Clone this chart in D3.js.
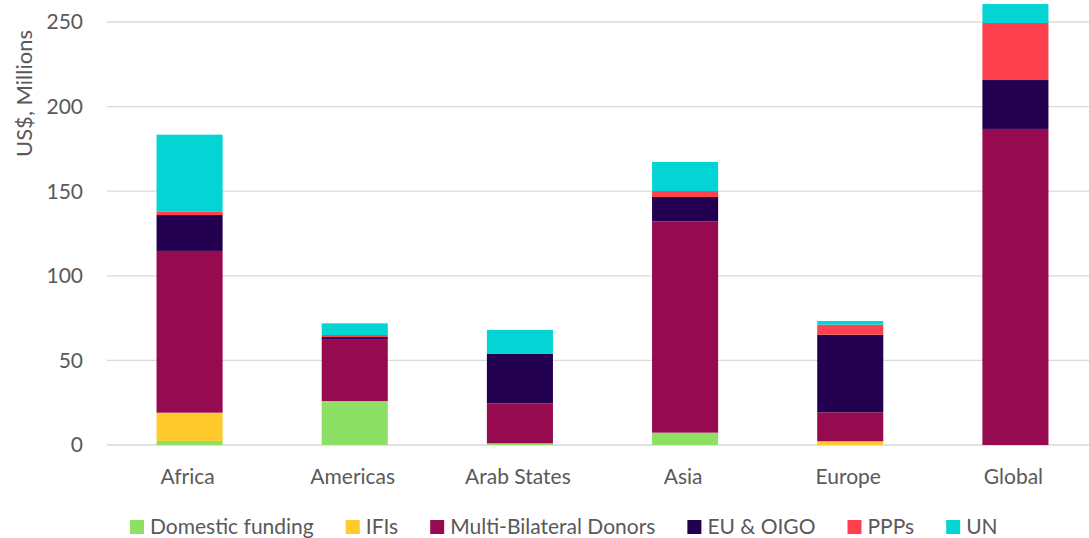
<!DOCTYPE html>
<html>
<head>
<meta charset="utf-8">
<script src="https://cdn.jsdelivr.net/npm/d3@7"></script>
<style>
  body { margin: 0; background: #fff; }
  svg { display: block; font-family: Lato, "Open Sans", sans-serif; }
</style>
</head>
<body>
<div id="chart"></div>
<script>
// data (US$ millions)
var regions = ["Africa", "Americas", "Arab States", "Asia", "Europe", "Global"];
var seriesNames = ["Domestic funding", "IFIs", "Multi-Bilateral Donors", "EU & OIGO", "PPPs", "UN"];
var seriesColors = ["#8ee065", "#ffca2c", "#960b50", "#23004f", "#ff404e", "#05d4d4"];

var domestic = [2.4, 26.0, 1.0, 7.3, 0, 0];
var ifis     = [16.7, 0, 0, 0, 2.2, 0];
var multiBi  = [95.6, 36.6, 23.6, 124.9, 17.1, 186.8];
var euOigo   = [21.2, 1.2, 29.2, 14.4, 45.9, 28.9];
var ppps     = [2.2, 1.2, 0, 3.5, 5.9, 33.7];
var un       = [45.3, 6.9, 14.2, 17.2, 2.2, 11.2];

var yTicks = [0, 50, 100, 150, 200, 250];

var width = 1089, height = 538;

var svg = d3.select("#chart")
    .append("svg")
    .attr("width", width)
    .attr("height", height);

// build rows for the stack
var allSeries = [domestic, ifis, multiBi, euOigo, ppps, un];
var rows = regions.map(function(r, i) {
    var row = {region: r};
    seriesNames.forEach(function(s, j) { row[s] = allSeries[j][i]; });
    return row;
});
var stacked = d3.stack().keys(seriesNames)(rows);

var x = d3.scaleBand()
    .domain(regions)
    .range([107, 1098])
    .paddingInner(0.6)
    .paddingOuter(0.3);

var y = d3.scaleLinear()
    .domain([0, 250])
    .range([445, 22]);

// gridlines
svg.append("g")
    .selectAll("line")
    .data(yTicks)
    .enter()
    .append("line")
    .attr("x1", 107)
    .attr("x2", width)
    .attr("y1", function(d) { return y(d); })
    .attr("y2", function(d) { return y(d); })
    .attr("stroke", "#d9d9d9")
    .attr("stroke-width", 1.3);

// y tick labels
svg.append("g")
    .selectAll("text")
    .data(yTicks)
    .enter()
    .append("text")
    .attr("x", 83)
    .attr("y", function(d) { return y(d); })
    .attr("dy", "0.35em")
    .attr("text-anchor", "end")
    .attr("fill", "#595959")
    .style("font-size", "21px")
    .text(function(d) { return d; });

// y axis title
svg.append("text")
    .attr("transform", "translate(32,157) rotate(-90)")
    .attr("text-anchor", "start")
    .attr("fill", "#595959")
    .style("font-size", "22px")
    .text("US$, Millions");

// bars
svg.append("g")
    .selectAll("g")
    .data(stacked)
    .enter()
    .append("g")
    .attr("fill", function(d, i) { return seriesColors[i]; })
    .selectAll("rect")
    .data(function(d) { return d; })
    .enter()
    .append("rect")
    .attr("x", function(d) { return x(d.data.region); })
    .attr("width", x.bandwidth())
    .attr("y", function(d) { return y(d[1]); })
    .attr("height", function(d) { return y(d[0]) - y(d[1]); });

// category labels
svg.append("g")
    .selectAll("text")
    .data(regions)
    .enter()
    .append("text")
    .attr("x", function(d) { return x(d) + x.bandwidth() / 2 - 2; })
    .attr("y", 484)
    .attr("text-anchor", "middle")
    .attr("fill", "#595959")
    .style("font-size", "21px")
    .text(function(d) { return d; });

// legend
var legend = svg.append("g");
var lx = 130;
seriesNames.forEach(function(s, i) {
    legend.append("rect")
        .attr("x", lx)
        .attr("y", 520)
        .attr("width", 14)
        .attr("height", 14)
        .attr("fill", seriesColors[i]);
    var t = legend.append("text")
        .attr("x", lx + 20)
        .attr("y", 534)
        .attr("fill", "#595959")
        .style("font-size", "21px")
        .text(s);
    lx += 20 + t.node().getComputedTextLength() + 32;
});
</script>
</body>
</html>
